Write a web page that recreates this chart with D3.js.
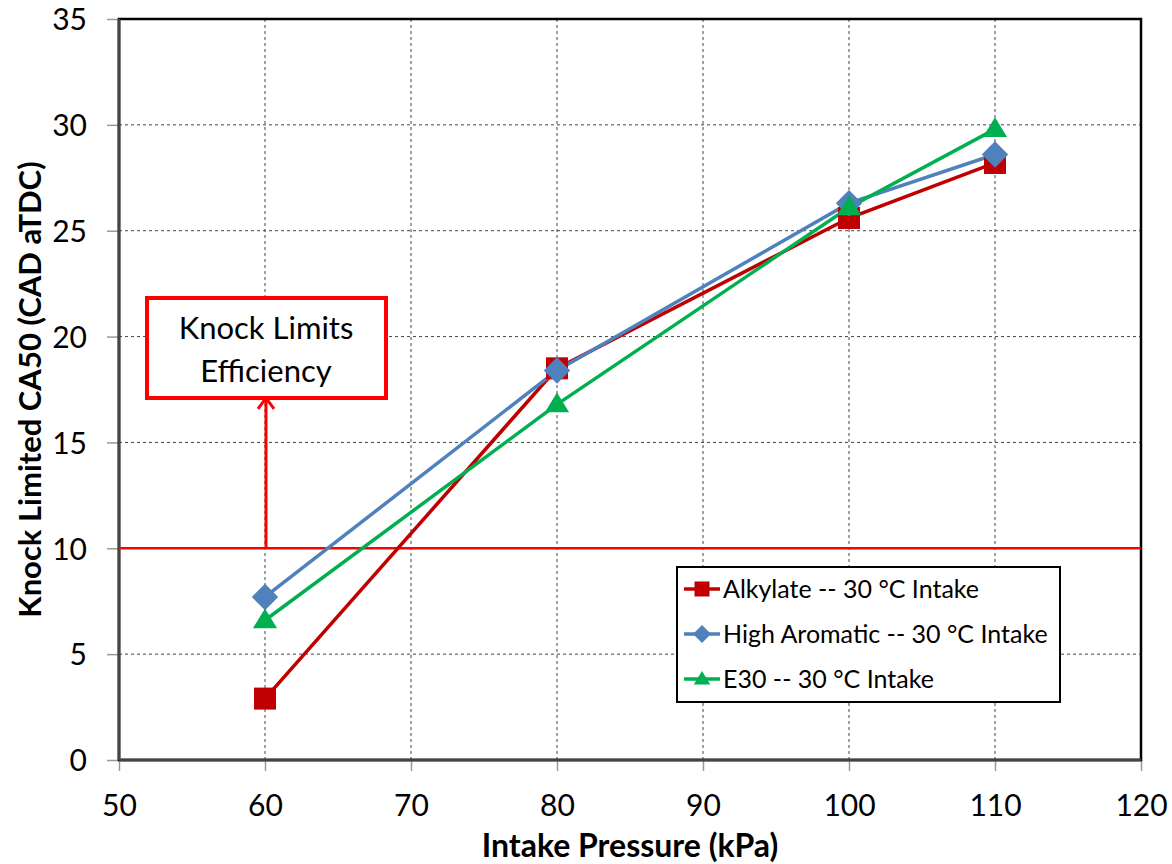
<!DOCTYPE html>
<html>
<head>
<meta charset="utf-8">
<script src="https://cdn.jsdelivr.net/npm/d3@7"></script>
<style>
  body { margin: 0; background: #fff; }
  text { font-family: Lato, "Open Sans", sans-serif; }
</style>
</head>
<body>
<script>
var width = 1172,
    height = 864;

// data
var pressures = [60, 80, 100, 110];
var alkylate = [2.9, 18.5, 25.6, 28.2];
var highAromatic = [7.7, 18.4, 26.3, 28.6];
var e30 = [6.6, 16.8, 26.1, 29.8];
var seriesNames = ["Alkylate -- 30 °C Intake", "High Aromatic -- 30 °C Intake", "E30 -- 30 °C Intake"];
var seriesColors = ["#C00000", "#4F81BD", "#00B050"];
var seriesMarkers = ["square", "diamond", "triangle"];
var xTicks = [50, 60, 70, 80, 90, 100, 110, 120];
var yTicks = [0, 5, 10, 15, 20, 25, 30, 35];
var knockLimit = 10;

var series = [alkylate, highAromatic, e30].map(function(vals, i) {
    return {
        name: seriesNames[i],
        color: seriesColors[i],
        marker: seriesMarkers[i],
        points: pressures.map(function(p, j) { return [p, vals[j]]; })
    };
});

var margin = {left: 119, right: 31, top: 19, bottom: 104};

var svg = d3.select("body")
    .append("svg")
    .attr("width", width)
    .attr("height", height);

var x = d3.scaleLinear().domain([50, 120]).range([margin.left, width - margin.right]);
var y = d3.scaleLinear().domain([0, 35]).range([height - margin.bottom, margin.top]);

// grid
svg.append("g")
    .selectAll("line")
    .data(xTicks.slice(1, -1))
    .enter().append("line")
    .attr("x1", d => x(d)).attr("x2", d => x(d))
    .attr("y1", y(35)).attr("y2", y(0))
    .attr("stroke", "#444").attr("stroke-width", 1).attr("stroke-dasharray", "3,3");
svg.append("g")
    .selectAll("line")
    .data(yTicks.slice(1, -1))
    .enter().append("line")
    .attr("x1", x(50)).attr("x2", x(120))
    .attr("y1", d => y(d)).attr("y2", d => y(d))
    .attr("stroke", "#444").attr("stroke-width", 1).attr("stroke-dasharray", "3,3");

// axes
var xAxis = svg.append("g")
    .attr("transform", "translate(0," + y(0) + ")")
    .call(d3.axisBottom(x).tickValues(xTicks).tickSize(11).tickPadding(24));
var yAxis = svg.append("g")
    .attr("transform", "translate(" + x(50) + ",0)")
    .call(d3.axisLeft(y).tickValues(yTicks).tickSize(12).tickPadding(20));
[xAxis, yAxis].forEach(function(a) {
    a.select(".domain").remove();
    a.selectAll(".tick line").attr("stroke", "#999").attr("stroke-width", 1.5);
    a.selectAll(".tick text").attr("font-size", 30).attr("fill", "#000")
        .style("font-family", "Lato, sans-serif");
});
yAxis.selectAll(".tick text").attr("dy", "0.36em");

// plot frame
svg.append("rect")
    .attr("x", x(50)).attr("y", y(35))
    .attr("width", x(120) - x(50)).attr("height", y(0) - y(35))
    .attr("fill", "none").attr("stroke", "#000").attr("stroke-width", 2.5);
svg.append("line")
    .attr("x1", x(50)).attr("x2", x(50)).attr("y1", y(35)).attr("y2", y(0))
    .attr("stroke", "#444").attr("stroke-width", 3);
svg.append("line")
    .attr("x1", x(50)).attr("x2", x(120)).attr("y1", y(0)).attr("y2", y(0))
    .attr("stroke", "#444").attr("stroke-width", 3);

// knock limit line
svg.append("line")
    .attr("x1", x(50)).attr("x2", x(120))
    .attr("y1", y(knockLimit)).attr("y2", y(knockLimit))
    .attr("stroke", "#FF0000").attr("stroke-width", 2.5);

// arrow up to the note
var ax = x(60) + 1;
svg.append("line")
    .attr("x1", ax).attr("x2", ax)
    .attr("y1", y(knockLimit)).attr("y2", y(17.1))
    .attr("stroke", "#FF0000").attr("stroke-width", 3);
svg.append("path")
    .attr("d", "M" + (ax - 8) + "," + (y(17.1) + 11) + " L" + ax + "," + y(17.1) + " L" + (ax + 8) + "," + (y(17.1) + 11))
    .attr("fill", "none").attr("stroke", "#FF0000").attr("stroke-width", 3);

// note box
var note = svg.append("g");
note.append("rect")
    .attr("x", 147).attr("y", 298).attr("width", 239).attr("height", 100)
    .attr("fill", "#fff").attr("stroke", "#FF0000").attr("stroke-width", 4);
note.selectAll("text")
    .data(["Knock Limits", "Efficiency"])
    .enter().append("text")
    .attr("x", 266).attr("y", (d, i) => 339 + i * 43)
    .attr("text-anchor", "middle").attr("font-size", 31)
    .text(d => d);

// markers
function drawMarker(g, type, color, cx, cy, s) {
    if (type == "square") {
        g.append("rect").attr("x", cx - s / 2).attr("y", cy - s / 2)
            .attr("width", s).attr("height", s).attr("fill", color);
    } else if (type == "diamond") {
        var r = s * 0.6;
        g.append("path")
            .attr("d", "M" + cx + "," + (cy - r) + "L" + (cx + r) + "," + cy + "L" + cx + "," + (cy + r) + "L" + (cx - r) + "," + cy + "Z")
            .attr("fill", color);
    } else {
        var h = s * 0.9;
        g.append("path")
            .attr("d", "M" + cx + "," + (cy - h * 0.6) + "L" + (cx + s * 0.55) + "," + (cy + h * 0.4) + "L" + (cx - s * 0.55) + "," + (cy + h * 0.4) + "Z")
            .attr("fill", color);
    }
}

var line = d3.line().x(d => x(d[0])).y(d => y(d[1]));
series.forEach(function(s) {
    svg.append("path")
        .datum(s.points)
        .attr("d", line)
        .attr("fill", "none").attr("stroke", s.color).attr("stroke-width", 3.5);
});
series.forEach(function(s) {
    var g = svg.append("g");
    s.points.forEach(function(p) {
        drawMarker(g, s.marker, s.color, x(p[0]), y(p[1]), 22);
    });
});

// legend
var legend = svg.append("g");
legend.append("rect")
    .attr("x", 677).attr("y", 567).attr("width", 383).attr("height", 135)
    .attr("fill", "#fff").attr("stroke", "#000").attr("stroke-width", 2);
series.forEach(function(s, i) {
    var ly = 589 + i * 45;
    var g = legend.append("g");
    g.append("line").attr("x1", 684).attr("x2", 720).attr("y1", ly).attr("y2", ly)
        .attr("stroke", s.color).attr("stroke-width", 3.5);
    drawMarker(g, s.marker, s.color, 702, ly, 15);
    g.append("text").attr("x", 723).attr("y", ly).attr("dy", "0.36em")
        .attr("font-size", 25).text(s.name);
});

// axis titles
svg.append("text")
    .attr("x", (x(50) + x(120)) / 2).attr("y", 857)
    .attr("text-anchor", "middle").attr("font-size", 32).attr("font-weight", "bold")
    .text("Intake Pressure (kPa)");
svg.append("text")
    .attr("transform", "translate(41," + (y(17.5) + 0) + ") rotate(-90)")
    .attr("text-anchor", "middle").attr("font-size", 31).attr("font-weight", "bold")
    .text("Knock Limited CA50 (CAD aTDC)");
</script>
</body>
</html>
